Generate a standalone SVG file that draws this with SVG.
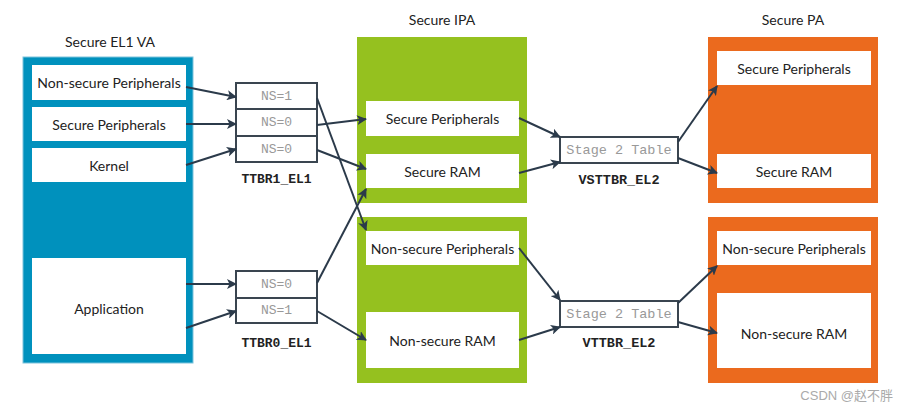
<svg xmlns="http://www.w3.org/2000/svg" width="907" height="413" viewBox="0 0 907 413">
<defs>
<marker id="ah" markerWidth="10" markerHeight="10" refX="9" refY="5" orient="auto" markerUnits="userSpaceOnUse">
<path d="M0,0 L10,5 L0,10 L2.5,5 Z" fill="#2b3a4a"/>
</marker>
</defs>
<style>
.lbl{font-family:Lato,"Open Sans",sans-serif;font-size:14px;fill:#222;text-anchor:middle;dominant-baseline:central}
.ttl{font-family:Lato,"Open Sans",sans-serif;font-size:14px;fill:#222;text-anchor:middle}
.wb{fill:#fff}
.tb{fill:#fff;stroke:#3a4550;stroke-width:2}
.ns{font-family:"Liberation Mono",monospace;font-size:13px;fill:#999;text-anchor:middle;dominant-baseline:central}
.reg{font-family:"Liberation Mono",monospace;font-size:13px;font-weight:bold;fill:#222;text-anchor:middle}
.ar{stroke:#2b3a4a;stroke-width:2;fill:none;marker-end:url(#ah)}
</style>
<rect width="907" height="413" fill="#fff"/>

<g id="el1va">
<text class="ttl" x="110" y="47">Secure EL1 VA</text>
<rect x="23" y="57" width="170" height="306" fill="#0091bd" stroke="#7cc3dc" stroke-width="1"/>
<rect class="wb" x="32" y="65" width="154" height="35"/>
<text class="lbl" x="109" y="82.5">Non-secure Peripherals</text>
<rect class="wb" x="32" y="107" width="154" height="34"/>
<text class="lbl" x="109" y="124">Secure Peripherals</text>
<rect class="wb" x="32" y="148" width="154" height="34"/>
<text class="lbl" x="109" y="165">Kernel</text>
<rect class="wb" x="32" y="258" width="154" height="96"/>
<text class="lbl" x="109" y="308">Application</text>
</g>

<g id="ttbr1">
<rect class="tb" x="236" y="83" width="81" height="26"/>
<rect class="tb" x="236" y="109" width="81" height="27"/>
<rect class="tb" x="236" y="136" width="81" height="26"/>
<text class="ns" x="276.5" y="96">NS=1</text>
<text class="ns" x="276.5" y="122.5">NS=0</text>
<text class="ns" x="276.5" y="149">NS=0</text>
<text class="reg" x="276.5" y="183">TTBR1_EL1</text>
</g>

<g id="ttbr0">
<rect class="tb" x="236" y="271" width="81" height="27"/>
<rect class="tb" x="236" y="298" width="81" height="25"/>
<text class="ns" x="276.5" y="284.5">NS=0</text>
<text class="ns" x="276.5" y="310.5">NS=1</text>
<text class="reg" x="276.5" y="347">TTBR0_EL1</text>
</g>

<g id="ipa">
<text class="ttl" x="442" y="25">Secure IPA</text>
<rect x="357" y="37" width="170" height="166" fill="#95c11f"/>
<rect x="357" y="217" width="170" height="166" fill="#95c11f"/>
<rect class="wb" x="366" y="101" width="153" height="35"/>
<text class="lbl" x="442.5" y="118.5">Secure Peripherals</text>
<rect class="wb" x="366" y="154" width="153" height="34"/>
<text class="lbl" x="442.5" y="171">Secure RAM</text>
<rect class="wb" x="366" y="231" width="153" height="34"/>
<text class="lbl" x="442.5" y="248">Non-secure Peripherals</text>
<rect class="wb" x="366" y="312" width="153" height="56"/>
<text class="lbl" x="442.5" y="340">Non-secure RAM</text>
</g>

<g id="vsttbr">
<rect class="tb" x="560" y="137" width="118" height="26"/>
<text class="ns" x="619" y="150" style="font-size:13.5px">Stage 2 Table</text>
<text class="reg" x="619" y="184" style="font-size:13.5px">VSTTBR_EL2</text>
</g>

<g id="vttbr">
<rect class="tb" x="560" y="301" width="118" height="26"/>
<text class="ns" x="619" y="314" style="font-size:13.5px">Stage 2 Table</text>
<text class="reg" x="619" y="347" style="font-size:13.5px">VTTBR_EL2</text>
</g>

<g id="pa">
<text class="ttl" x="793" y="25">Secure PA</text>
<rect x="708" y="37" width="170" height="166" fill="#eb6a1e"/>
<rect x="708" y="217" width="170" height="166" fill="#eb6a1e"/>
<rect class="wb" x="717" y="51" width="154" height="34"/>
<text class="lbl" x="794" y="68">Secure Peripherals</text>
<rect class="wb" x="717" y="154" width="154" height="34"/>
<text class="lbl" x="794" y="171">Secure RAM</text>
<rect class="wb" x="717" y="231" width="154" height="34"/>
<text class="lbl" x="794" y="248">Non-secure Peripherals</text>
<rect class="wb" x="717" y="293" width="154" height="75"/>
<text class="lbl" x="794" y="333">Non-secure RAM</text>
</g>

<g id="connectors">
<line class="ar" x1="186" y1="87" x2="236" y2="97"/>
<line class="ar" x1="186" y1="124" x2="236" y2="124"/>
<line class="ar" x1="186" y1="165" x2="236" y2="149"/>
<line class="ar" x1="186" y1="284" x2="236" y2="284"/>
<line class="ar" x1="186" y1="328" x2="236" y2="311"/>

<line class="ar" x1="317" y1="98" x2="366" y2="230"/>
<line class="ar" x1="317" y1="125" x2="366" y2="119"/>
<line class="ar" x1="317" y1="150" x2="366" y2="169"/>
<line class="ar" x1="317" y1="283" x2="366" y2="189"/>
<line class="ar" x1="317" y1="311" x2="366" y2="340"/>

<line class="ar" x1="519" y1="118" x2="560" y2="137"/>
<line class="ar" x1="519" y1="173" x2="560" y2="162"/>
<line class="ar" x1="519" y1="248" x2="560" y2="300"/>
<line class="ar" x1="519" y1="340" x2="560" y2="327"/>

<line class="ar" x1="678" y1="142" x2="717" y2="86"/>
<line class="ar" x1="678" y1="158" x2="717" y2="173"/>
<line class="ar" x1="678" y1="303" x2="717" y2="266"/>
<line class="ar" x1="678" y1="322" x2="717" y2="333"/>
</g>

<text x="893" y="400" style="font-family:'Liberation Sans','Noto Sans CJK SC',sans-serif;font-size:13px;fill:#aaa;text-anchor:end">CSDN @赵不胖</text>
</svg>
